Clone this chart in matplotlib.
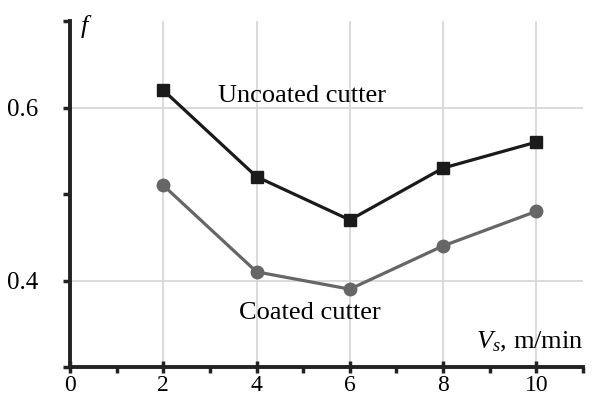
import matplotlib
matplotlib.use("Agg")
import matplotlib.pyplot as plt
from matplotlib.ticker import FixedLocator

speed = [2, 4, 6, 8, 10]
uncoated = [0.62, 0.52, 0.47, 0.53, 0.56]
coated = [0.51, 0.41, 0.39, 0.44, 0.48]
x_major = [0, 2, 4, 6, 8, 10]
x_minor = [1, 3, 5, 7, 9, 11]
y_ticks = [0.4, 0.6]
y_minor = [0.3, 0.5, 0.7]

plt.rcParams['font.family'] = ['Liberation Serif', 'DejaVu Serif']
plt.rcParams['mathtext.fontset'] = 'custom'
plt.rcParams['mathtext.rm'] = 'Liberation Serif'
plt.rcParams['mathtext.it'] = 'Liberation Serif:italic'

fig = plt.figure(figsize=(5.95, 4.05), dpi=100)
ax = fig.add_axes([70/595, 38/405, 513/595, 346/405])
ax.set_xlim(0, 11)
ax.set_ylim(0.3, 0.7)

for s in ['top', 'right']:
    ax.spines[s].set_visible(False)
for s in ['left', 'bottom']:
    ax.spines[s].set_linewidth(2.8)
    ax.spines[s].set_color('#222222')

ax.xaxis.set_major_locator(FixedLocator(x_major))
ax.xaxis.set_minor_locator(FixedLocator(x_minor))
ax.yaxis.set_major_locator(FixedLocator(y_ticks))
ax.yaxis.set_minor_locator(FixedLocator(y_minor))
ax.set_xticklabels([str(v) for v in x_major])
ax.set_yticklabels(['0.4', '0.6'])
ax.tick_params(axis='x', which='major', direction='inout', length=9, width=2.5,
               color='#222222', labelsize=17, pad=1)
ax.tick_params(axis='x', which='minor', length=4, width=2.5, color='#222222')
ax.tick_params(axis='y', which='major', length=5, width=2.5, color='#222222',
               labelsize=18, pad=18)
ax.tick_params(axis='y', which='minor', length=5, width=2.5, color='#222222')

ax.grid(True, which='major', color='#d4d4d4', linewidth=1.2)
ax.set_axisbelow(True)

ax.plot(speed, uncoated, color='#1a1a1a', linewidth=2.3, marker='s', markersize=8,
        markerfacecolor='#1a1a1a', markeredgecolor='#1a1a1a', zorder=3)
ax.plot(speed, coated, color='#666666', linewidth=2.3, marker='o', markersize=9,
        markerfacecolor='#666666', markeredgecolor='#666666', zorder=3)

ax.text(4.97, 0.613, 'Uncoated cutter', fontsize=19, ha='center', va='center')
ax.text(5.15, 0.362, 'Coated cutter', fontsize=19, ha='center', va='center')
ax.text(11.0, 0.329, r'$V_s$, m/min', fontsize=19, ha='right', va='center')
ax.text(0.21, 0.694, r'$f$', fontsize=19, ha='left', va='center')

fig.savefig('out.png', dpi=100)
